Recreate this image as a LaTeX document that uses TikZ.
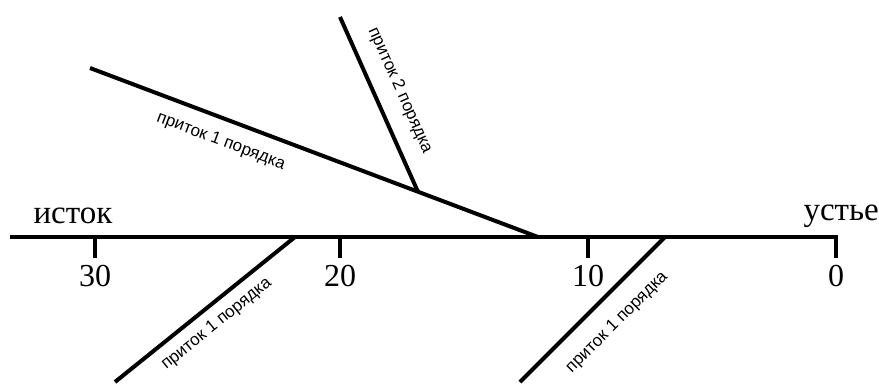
\documentclass[tikz,border=0pt]{standalone}
\usepackage{fontspec}
\setmainfont{Liberation Serif}
\newfontfamily\tribfont{Liberation Sans}
\usetikzlibrary{positioning,calc}

\begin{document}
\begin{tikzpicture}[x=1pt,y=-1pt,
  river/.style={line width=4pt},
  kmtick/.style={line width=4pt},
  trib/.style={font=\tribfont\fontsize{17}{17}\selectfont,sloped,inner sep=0pt},
  num/.style={font=\fontsize{32}{32}\selectfont,inner sep=0pt},
  endlbl/.style={font=\fontsize{33}{33}\selectfont,inner sep=0pt}
]
\useasboundingbox (0,0) rectangle (879,389);
% main river
\coordinate (src) at (10,237);
\coordinate (mouth) at (838,237);
\draw[river] (src) -- (mouth);
\node[endlbl,anchor=base] (lsrc) at (73,223) {исток};
\node[endlbl,anchor=base east] (lmouth) at (879,220) {устье};
% km marks
\coordinate (k30) at (95,237);
\coordinate (k20) at (340,237);
\coordinate (k10) at (588,237);
\coordinate (k0) at (836,237);
\draw[kmtick] (k30) -- ++(0,21) coordinate (k30e);
\draw[kmtick] (k20) -- ++(0,21) coordinate (k20e);
\draw[kmtick] (k10) -- ++(0,21) coordinate (k10e);
\draw[kmtick] (k0) -- ++(0,21) coordinate (k0e);
\node[num,below=7pt of k30e] (n30) {30};
\node[num,below=7pt of k20e] (n20) {20};
\node[num,below=7pt of k10e] (n10) {10};
\node[num,below=7pt of k0e] (n0) {0};
% tributaries
\coordinate (j1) at (538,237);
\coordinate (j2) at (295,237);
\coordinate (j3) at (665,237);
\coordinate (t1s) at (90,68);
\coordinate (t2s) at (340,17);
\coordinate (t3s) at (115,382);
\coordinate (t4s) at (520,382);
\coordinate (t2j) at ($(t1s)!0.732!(j1)$);
\draw[river] (t1s) -- node[trib,pos=0.31,below=13pt] (l1) {приток 1 порядка} (j1);
\draw[river] (t2s) -- node[trib,pos=0.48,above=15pt] (l2) {приток 2 порядка} (t2j);
\draw[river] (t3s) -- node[trib,pos=0.50,below=9pt] (l3) {приток 1 порядка} (j2);
\draw[river] (t4s) -- node[trib,pos=0.54,below=17pt] (l4) {приток 1 порядка} (j3);
\end{tikzpicture}
\end{document}
